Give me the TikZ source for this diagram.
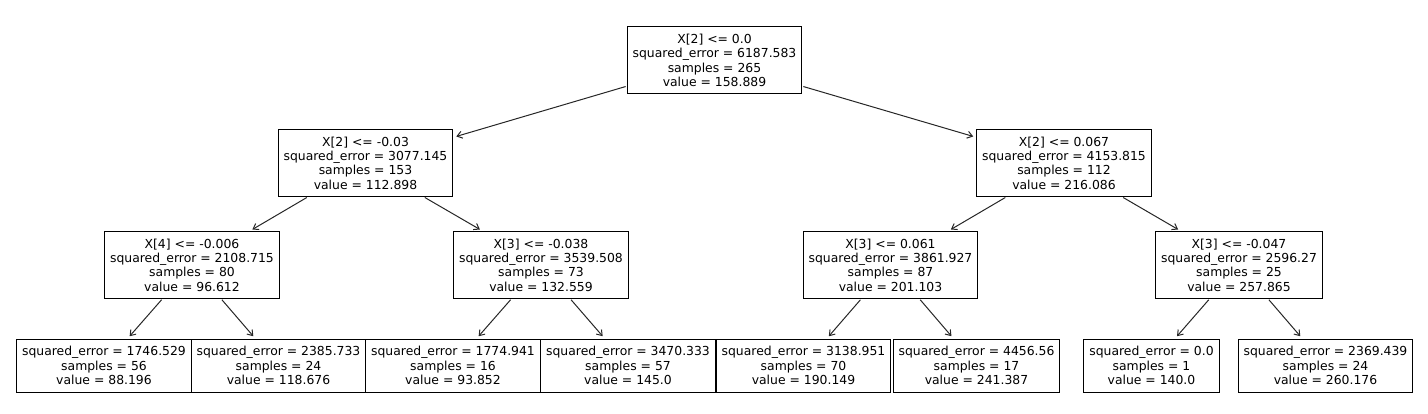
\documentclass[tikz,border=0pt]{standalone}
\usepackage{fontspec}
\setmainfont{DejaVu Sans}
\usetikzlibrary{arrows.meta}
\tikzset{
  base/.style={draw=black, line width=1pt, fill=white, align=center, inner xsep=5.5pt, inner ysep=0pt,
    font={\fontsize{12.4}{14.3}\selectfont}, text=black},
  split/.style={base, minimum height=67pt},
  leaf/.style={base, minimum height=53pt},
  arr/.style={draw=black!85, line width=1pt, -{Straight Barb[length=5pt,width=7pt]}, shorten <=1pt, shorten >=3pt}
}
\begin{document}
\begin{tikzpicture}[x=1pt,y=-1pt]
\useasboundingbox (0,0) rectangle (1428,414);
% level 0
\node[split] (n0) at (714.5,60.5) {X[2] <= 0.0\\squared\_error = 6187.583\\samples = 265\\value = 158.889};
% level 1
\node[split] (n1) at (365.5,163) {X[2] <= -0.03\\squared\_error = 3077.145\\samples = 153\\value = 112.898};
\node[split] (n8) at (1064,163) {X[2] <= 0.067\\squared\_error = 4153.815\\samples = 112\\value = 216.086};
% level 2
\node[split] (n2) at (192,265) {X[4] <= -0.006\\squared\_error = 2108.715\\samples = 80\\value = 96.612};
\node[split] (n5) at (541,265) {X[3] <= -0.038\\squared\_error = 3539.508\\samples = 73\\value = 132.559};
\node[split] (n9) at (890.5,265) {X[3] <= 0.061\\squared\_error = 3861.927\\samples = 87\\value = 201.103};
\node[split] (n12) at (1239,265) {X[3] <= -0.047\\squared\_error = 2596.27\\samples = 25\\value = 257.865};
% leaves
\node[leaf] (n3) at (104,365.5) {squared\_error = 1746.529\\samples = 56\\value = 88.196};
\node[leaf] (n4) at (278.5,365.5) {squared\_error = 2385.733\\samples = 24\\value = 118.676};
\node[leaf] (n6) at (453,365.5) {squared\_error = 1774.941\\samples = 16\\value = 93.852};
\node[leaf] (n7) at (628,365.5) {squared\_error = 3470.333\\samples = 57\\value = 145.0};
\node[leaf] (n10) at (803.5,365.5) {squared\_error = 3138.951\\samples = 70\\value = 190.149};
\node[leaf] (n11) at (976.5,365.5) {squared\_error = 4456.56\\samples = 17\\value = 241.387};
\node[leaf] (n13) at (1151.5,365.5) {squared\_error = 0.0\\samples = 1\\value = 140.0};
\node[leaf] (n14) at (1325.5,365.5) {squared\_error = 2369.439\\samples = 24\\value = 260.176};
% edges
\draw[arr] (n0) -- (n1);
\draw[arr] (n0) -- (n8);
\draw[arr] (n1) -- (n2);
\draw[arr] (n1) -- (n5);
\draw[arr] (n8) -- (n9);
\draw[arr] (n8) -- (n12);
\draw[arr] (n2) -- (n3);
\draw[arr] (n2) -- (n4);
\draw[arr] (n5) -- (n6);
\draw[arr] (n5) -- (n7);
\draw[arr] (n9) -- (n10);
\draw[arr] (n9) -- (n11);
\draw[arr] (n12) -- (n13);
\draw[arr] (n12) -- (n14);
\end{tikzpicture}
\end{document}
